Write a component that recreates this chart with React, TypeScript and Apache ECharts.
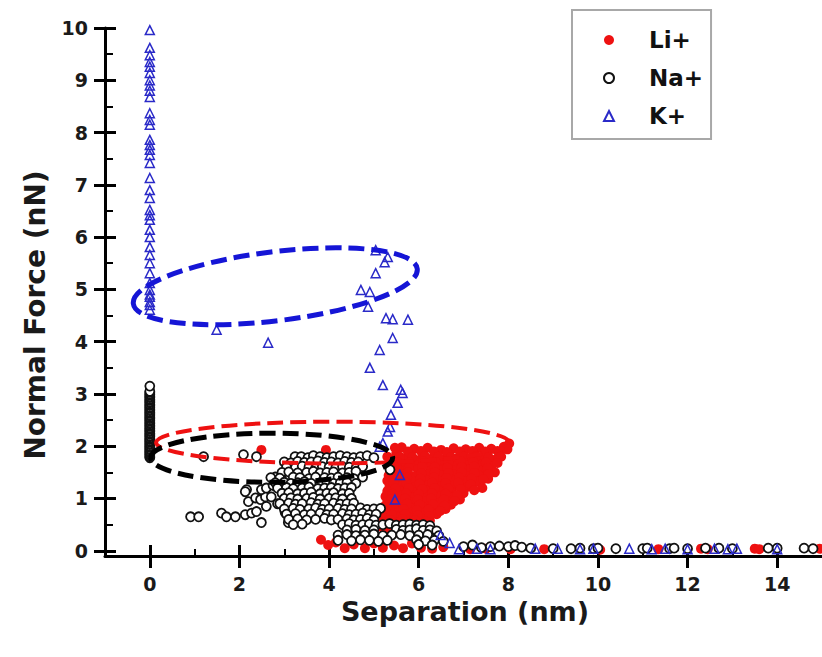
import React, { useEffect, useRef } from "react";
import * as echarts from "echarts";

const FONT = "'DejaVu Sans', 'Liberation Sans', sans-serif";

// Axis ticks
const xTickValues = [0, 2, 4, 6, 8, 10, 12, 14];
const xMinorValues = [1, 3, 5, 7, 9, 11, 13];
const yTickValues = [0, 1, 2, 3, 4, 5, 6, 7, 8, 9, 10];
const yMinorValues = [0.5, 1.5, 2.5, 3.5, 4.5, 5.5, 6.5, 7.5, 8.5, 9.5];

// Li+ (red filled circles)
const liCluster: number[][] = [
  [5.62, 1.98], [5.9, 1.95], [6.2, 1.97], [6.5, 1.93], [6.78, 1.96], [7.05, 1.94], [7.35, 1.97], [7.62, 1.95], [7.9, 1.99], [8.02, 2.05],
  [5.5, 1.86], [5.78, 1.84], [6.08, 1.87], [6.36, 1.83], [6.66, 1.86], [6.95, 1.84], [7.22, 1.87], [7.52, 1.83], [7.8, 1.86],
  [5.42, 1.75], [5.7, 1.76], [5.98, 1.73], [6.28, 1.76], [6.57, 1.74], [6.86, 1.77], [7.14, 1.73], [7.42, 1.76], [7.7, 1.74],
  [5.36, 1.64], [5.64, 1.66], [5.93, 1.63], [6.22, 1.66], [6.5, 1.64], [6.8, 1.66], [7.08, 1.63], [7.36, 1.65], [7.62, 1.62],
  [5.4, 1.55], [5.68, 1.53], [5.98, 1.56], [6.26, 1.53], [6.56, 1.56], [6.84, 1.54], [7.12, 1.56], [7.4, 1.53], [7.7, 1.5],
  [5.33, 1.44], [5.62, 1.46], [5.92, 1.43], [6.2, 1.46], [6.5, 1.44], [6.78, 1.46], [7.06, 1.43], [7.34, 1.45], [7.55, 1.38],
  [5.3, 1.34], [5.58, 1.35], [5.88, 1.33], [6.16, 1.36], [6.45, 1.34], [6.74, 1.35], [7.02, 1.33], [7.3, 1.32],
  [5.35, 1.24], [5.64, 1.25], [5.94, 1.23], [6.22, 1.26], [6.52, 1.24], [6.8, 1.25], [7.08, 1.22], [7.42, 1.2],
  [5.3, 1.14], [5.58, 1.15], [5.86, 1.13], [6.16, 1.16], [6.46, 1.14], [6.74, 1.12], [7.0, 1.1],
  [5.26, 1.04], [5.54, 1.05], [5.84, 1.03], [6.12, 1.06], [6.42, 1.04], [6.7, 1.02], [6.92, 0.98],
  [5.3, 0.94], [5.6, 0.95], [5.88, 0.93], [6.18, 0.95], [6.46, 0.92], [6.72, 0.88],
  [5.22, 0.84], [5.5, 0.85], [5.8, 0.83], [6.08, 0.85], [6.36, 0.82], [6.6, 0.8],
  [5.25, 0.74], [5.55, 0.75], [5.84, 0.73], [6.12, 0.74], [6.4, 0.7],
  [5.2, 0.64], [5.5, 0.65], [5.78, 0.63], [6.06, 0.62], [6.25, 0.58],
  [5.24, 0.54], [5.54, 0.55], [5.82, 0.52], [6.08, 0.5],
  [5.2, 0.44], [5.48, 0.45], [5.76, 0.42],
  [5.3, 0.35], [5.58, 0.33],
];
const liClusterFill: number[][] = [
  [5.76, 1.9], [6.05, 1.91], [6.34, 1.9], [6.63, 1.89], [6.92, 1.9], [7.2, 1.91], [7.48, 1.9], [7.76, 1.91], [7.98, 1.94],
  [5.58, 1.8], [5.86, 1.79], [6.14, 1.81], [6.44, 1.8], [6.72, 1.79], [7.0, 1.8], [7.28, 1.81], [7.56, 1.79], [7.84, 1.8],
  [5.52, 1.7], [5.8, 1.69], [6.1, 1.71], [6.38, 1.7], [6.66, 1.69], [6.94, 1.71], [7.22, 1.7], [7.5, 1.69], [7.76, 1.68],
  [5.5, 1.6], [5.78, 1.59], [6.08, 1.61], [6.36, 1.6], [6.64, 1.59], [6.96, 1.6], [7.24, 1.61], [7.54, 1.58],
  [5.48, 1.49], [5.76, 1.5], [6.06, 1.48], [6.36, 1.5], [6.66, 1.49], [6.96, 1.5], [7.24, 1.49], [7.56, 1.47],
  [5.45, 1.39], [5.74, 1.4], [6.04, 1.38], [6.34, 1.4], [6.62, 1.39], [6.9, 1.4], [7.18, 1.38], [7.44, 1.37],
  [5.44, 1.29], [5.72, 1.3], [6.02, 1.28], [6.3, 1.3], [6.6, 1.29], [6.88, 1.3], [7.16, 1.27],
  [5.48, 1.19], [5.78, 1.2], [6.08, 1.18], [6.36, 1.2], [6.66, 1.19], [6.94, 1.18], [7.24, 1.16],
  [5.42, 1.09], [5.72, 1.1], [6.0, 1.08], [6.3, 1.1], [6.6, 1.09], [6.86, 1.06],
  [5.4, 0.99], [5.7, 1.0], [5.98, 0.98], [6.28, 1.0], [6.56, 0.98], [6.8, 0.95],
  [5.44, 0.89], [5.74, 0.9], [6.02, 0.88], [6.32, 0.89], [6.58, 0.86],
  [5.36, 0.79], [5.66, 0.8], [5.96, 0.78], [6.22, 0.79], [6.48, 0.76],
  [5.4, 0.69], [5.7, 0.7], [5.98, 0.68], [6.24, 0.66],
  [5.36, 0.59], [5.64, 0.6], [5.92, 0.58], [6.16, 0.56],
  [5.38, 0.49], [5.66, 0.48], [5.92, 0.47],
  [5.34, 0.39], [5.62, 0.38],
];
const liScattered: number[][] = [
  [2.49, 1.93], [3.93, 1.93], [5.47, 1.97], [5.3, 1.8],
  [3.82, 0.21], [3.98, 0.11], [4.15, 0.16], [4.35, 0.05], [4.55, 0.12], [4.8, 0.05], [5.0, 0.14],
  [5.2, 0.06], [5.45, 0.1], [5.65, 0.05], [5.85, 0.14], [6.05, 0.06], [6.3, 0.04], [6.55, 0.07],
  [7.15, 0.03], [7.5, 0.04], [8.05, 0.03], [8.8, 0.03], [9.95, 0.04], [10.05, 0.02], [11.35, 0.03],
  [12.3, 0.04], [12.45, 0.03], [13.5, 0.04], [13.6, 0.03], [14.95, 0.04],
];

// Na+ (black open circles)
const naColumn: number[][] = [
  [0, 1.78], [0, 1.8], [0, 1.83], [0, 1.85], [0, 1.88], [0, 1.9], [0, 1.93], [0, 1.95], [0, 1.98], [0, 2.0],
  [0, 2.03], [0, 2.05], [0, 2.08], [0, 2.1], [0, 2.13], [0, 2.15], [0, 2.18], [0, 2.2], [0, 2.23], [0, 2.25],
  [0, 2.28], [0, 2.3], [0, 2.33], [0, 2.35], [0, 2.38], [0, 2.4], [0, 2.43], [0, 2.45], [0, 2.48], [0, 2.5],
  [0, 2.53], [0, 2.55], [0, 2.58], [0, 2.6], [0, 2.63], [0, 2.65], [0, 2.68], [0, 2.7], [0, 2.73], [0, 2.75],
  [0, 2.78], [0, 2.8], [0, 2.83], [0, 2.85], [0, 2.88], [0, 2.9], [0, 2.93], [0, 2.95], [0, 2.98], [0, 3.0],
  [0, 3.03], [0, 3.05], [0, 3.15],
];
const naSparse: number[][] = [
  [0.91, 0.65], [1.09, 0.65], [1.6, 0.72], [1.71, 0.65], [1.91, 0.65], [2.13, 0.69], [2.27, 0.72], [2.38, 0.75],
  [2.49, 0.54], [1.2, 1.8], [2.09, 1.84], [2.38, 1.8], [2.16, 1.17], [2.2, 0.94], [2.36, 1.01], [2.47, 0.98],
  [2.58, 1.03], [2.71, 1.03], [2.8, 1.41], [2.93, 1.41], [3.02, 0.73], [3.09, 0.54], [2.13, 1.13], [2.49, 1.17],
  [2.6, 1.2], [2.75, 1.25], [2.6, 0.85], [2.85, 0.9],
];
const naCluster: number[][] = [
  [3.24, 1.8], [3.38, 1.8], [3.53, 1.78], [3.65, 1.82], [3.8, 1.8], [3.95, 1.78], [4.1, 1.8], [4.25, 1.82], [4.4, 1.8], [4.55, 1.78], [4.7, 1.8], [4.85, 1.82], [5.0, 1.78], [5.36, 1.55],
  [3.0, 1.7], [3.15, 1.68], [3.3, 1.71], [3.45, 1.69], [3.6, 1.7], [3.75, 1.72], [3.9, 1.69], [4.05, 1.7], [4.2, 1.68], [4.35, 1.71], [4.5, 1.69], [4.65, 1.7],
  [3.05, 1.6], [3.25, 1.59], [3.4, 1.62], [3.55, 1.6], [3.7, 1.58], [3.85, 1.61], [4.0, 1.6], [4.15, 1.59], [4.3, 1.61], [4.45, 1.6], [4.6, 1.58], [4.75, 1.61],
  [2.95, 1.5], [3.1, 1.51], [3.3, 1.49], [3.5, 1.5], [3.65, 1.52], [3.8, 1.49], [3.95, 1.5], [4.1, 1.51], [4.3, 1.49], [4.45, 1.5], [4.6, 1.52],
  [2.7, 1.4], [2.9, 1.39], [3.2, 1.41], [3.35, 1.4], [3.55, 1.38], [3.7, 1.41], [3.9, 1.4], [4.05, 1.39], [4.2, 1.41], [4.4, 1.4], [4.55, 1.38], [4.75, 1.41],
  [2.8, 1.3], [3.0, 1.31], [3.15, 1.29], [3.3, 1.3], [3.45, 1.32], [3.6, 1.29], [3.8, 1.3], [3.95, 1.31], [4.1, 1.29], [4.25, 1.3], [4.4, 1.31], [4.6, 1.29],
  [2.85, 1.2], [3.05, 1.21], [3.2, 1.19], [3.4, 1.2], [3.55, 1.22], [3.75, 1.19], [3.9, 1.2], [4.05, 1.21], [4.2, 1.19], [4.35, 1.2], [4.5, 1.21],
  [2.95, 1.1], [3.1, 1.11], [3.3, 1.09], [3.45, 1.1], [3.6, 1.12], [3.8, 1.09], [3.95, 1.1], [4.1, 1.11], [4.3, 1.09], [4.45, 1.1],
  [3.0, 1.0], [3.15, 1.01], [3.3, 0.99], [3.5, 1.0], [3.65, 1.02], [3.8, 0.99], [4.0, 1.0], [4.15, 1.01], [4.3, 0.99], [4.5, 1.0],
  [2.9, 0.9], [3.1, 0.91], [3.25, 0.89], [3.4, 0.9], [3.6, 0.92], [3.75, 0.89], [3.9, 0.9], [4.1, 0.91], [4.25, 0.89], [4.4, 0.9], [4.55, 0.91],
  [3.0, 0.8], [3.2, 0.81], [3.35, 0.79], [3.55, 0.8], [3.7, 0.82], [3.85, 0.79], [4.0, 0.8], [4.2, 0.81], [4.35, 0.79], [4.5, 0.8], [4.7, 0.82], [4.85, 0.79], [5.0, 0.8], [5.15, 0.81],
  [3.05, 0.7], [3.25, 0.71], [3.45, 0.69], [3.6, 0.7], [3.8, 0.72], [3.95, 0.69], [4.1, 0.7], [4.3, 0.71], [4.45, 0.69], [4.6, 0.7], [4.75, 0.72], [4.9, 0.69], [5.05, 0.7],
  [3.1, 0.6], [3.3, 0.61], [3.5, 0.59], [3.7, 0.6], [3.9, 0.62], [4.05, 0.59], [4.2, 0.6], [4.4, 0.61], [4.55, 0.59], [4.7, 0.6], [4.85, 0.62], [5.0, 0.59],
  [3.2, 0.5], [3.4, 0.51], [4.3, 0.5], [4.45, 0.52], [4.6, 0.49], [4.75, 0.5], [4.9, 0.51], [5.05, 0.49], [5.2, 0.5], [5.35, 0.52], [5.5, 0.49], [5.65, 0.5], [5.8, 0.51], [5.95, 0.49], [6.1, 0.5], [6.25, 0.48],
  [4.4, 0.4], [4.6, 0.41], [4.8, 0.39], [5.0, 0.4], [5.5, 0.41], [5.65, 0.39], [5.8, 0.4], [5.95, 0.42], [6.1, 0.39], [6.25, 0.4], [6.4, 0.38],
  [4.2, 0.3], [4.4, 0.31], [4.6, 0.29], [4.8, 0.3], [5.0, 0.32], [5.2, 0.29], [5.4, 0.3], [5.6, 0.31], [5.8, 0.29], [6.0, 0.3], [6.2, 0.31], [6.45, 0.29],
  [4.2, 0.2], [4.5, 0.19], [4.7, 0.21], [4.9, 0.2], [5.1, 0.18], [5.3, 0.2], [5.95, 0.21], [6.15, 0.19], [6.35, 0.2], [6.55, 0.18],
  [6.0, 0.12], [6.3, 0.11],
];
const naTail: number[][] = [
  [7.0, 0.08], [7.2, 0.11], [7.4, 0.06], [7.6, 0.08], [7.8, 0.09], [8.0, 0.08], [8.15, 0.1], [8.3, 0.07], [8.5, 0.05],
  [9.0, 0.04], [9.4, 0.04], [9.6, 0.05], [9.9, 0.04], [10.0, 0.05], [10.4, 0.04], [11.0, 0.04], [11.1, 0.05],
  [11.6, 0.04], [11.7, 0.05], [12.0, 0.04], [12.4, 0.05], [12.7, 0.05], [13.0, 0.04], [13.8, 0.05], [14.0, 0.05],
  [14.6, 0.05], [14.8, 0.04],
];

// K+ (blue open triangles)
const kColumn: number[][] = [
  [0, 9.96], [0, 9.62], [0, 9.48], [0, 9.35], [0, 9.26], [0, 9.14], [0, 9.0], [0, 8.9], [0, 8.8], [0, 8.68],
  [0, 8.37], [0, 8.24], [0, 8.15], [0, 7.86], [0, 7.76], [0, 7.67], [0, 7.57], [0, 7.42], [0, 7.13], [0, 6.9],
  [0, 6.75], [0, 6.52], [0, 6.42], [0, 6.33], [0, 6.14], [0, 6.0], [0, 5.81], [0, 5.66], [0, 5.5], [0, 5.31],
  [0, 5.12], [0, 4.99], [0, 4.9], [0, 4.86], [0, 4.76], [0, 4.7], [0, 4.61],
];
const kScattered: number[][] = [
  [1.49, 4.23], [2.64, 3.98], [5.04, 5.75], [5.31, 5.62], [5.24, 5.52], [5.04, 5.31], [4.71, 4.99], [4.91, 4.95],
  [4.87, 4.67], [5.27, 4.45], [5.42, 4.43], [5.76, 4.42], [5.42, 4.07], [5.13, 3.84], [4.91, 3.5], [5.2, 3.17],
  [5.6, 3.08], [5.64, 3.02], [5.53, 2.83], [5.38, 2.6], [5.36, 2.37], [5.31, 2.28], [5.2, 2.06], [5.13, 1.99],
  [5.58, 1.45], [5.47, 0.98], [6.49, 0.3], [6.69, 0.15],
  [6.9, 0.03], [7.3, 0.04], [7.6, 0.03], [8.6, 0.04], [9.1, 0.04], [9.6, 0.03], [9.9, 0.04], [10.7, 0.04],
  [11.2, 0.03], [11.5, 0.04], [12.0, 0.03], [12.6, 0.04], [12.9, 0.03], [13.1, 0.04], [14.0, 0.03],
];

const liData = [...liCluster, ...liClusterFill, ...liScattered];
const naData = [...naColumn, ...naSparse, ...naCluster, ...naTail];
const kData = [...kColumn, ...kScattered];

// Dashed ellipse annotations (data units)
const ellipses = [
  { color: "#1515d6", cx: 2.8, cy: 5.06, rx: 3.19, ry: 0.66, rotateDeg: 7, width: 5 },
  { color: "#ee1111", cx: 4.08, cy: 2.07, rx: 3.94, ry: 0.4, rotateDeg: 0, width: 4 },
  { color: "#000000", cx: 2.72, cy: 1.78, rx: 2.7, ry: 0.47, rotateDeg: 0, width: 5 },
];

const axisColor = "#000";

function makeXAxes() {
  const base = {
    type: "value" as const,
    min: -1,
    max: 15,
    position: "bottom" as const,
    splitLine: { show: false },
  };
  return [
    {
      ...base,
      axisLine: { show: true, onZero: false, lineStyle: { color: axisColor, width: 3 } },
      axisTick: { show: true, inside: false, length: 12, customValues: xTickValues, lineStyle: { color: axisColor, width: 3 } },
      axisLabel: { show: true, customValues: xTickValues, margin: 18, fontFamily: FONT, fontWeight: "bold", fontSize: 19, color: "#1a1a1a" },
    },
    {
      ...base,
      axisLine: { show: false, onZero: false },
      axisTick: { show: true, inside: true, length: 11, customValues: xTickValues, lineStyle: { color: axisColor, width: 3 } },
      axisLabel: { show: false },
    },
    {
      ...base,
      axisLine: { show: false, onZero: false },
      axisTick: { show: true, inside: true, length: 7, customValues: xMinorValues, lineStyle: { color: axisColor, width: 2 } },
      axisLabel: { show: false },
    },
  ];
}

function makeYAxes() {
  const base = {
    type: "value" as const,
    min: -0.1,
    max: 10,
    position: "left" as const,
    splitLine: { show: false },
  };
  return [
    {
      ...base,
      axisLine: { show: true, onZero: false, lineStyle: { color: axisColor, width: 3 } },
      axisTick: { show: true, inside: false, length: 11, customValues: yTickValues, lineStyle: { color: axisColor, width: 3 } },
      axisLabel: { show: true, customValues: yTickValues, margin: 17, fontFamily: FONT, fontWeight: "bold", fontSize: 19, color: "#1a1a1a" },
    },
    {
      ...base,
      axisLine: { show: false, onZero: false },
      axisTick: { show: true, inside: true, length: 11, customValues: yTickValues, lineStyle: { color: axisColor, width: 3 } },
      axisLabel: { show: false },
    },
    {
      ...base,
      axisLine: { show: false, onZero: false },
      axisTick: { show: true, inside: true, length: 8, customValues: yMinorValues, lineStyle: { color: axisColor, width: 2 } },
      axisLabel: { show: false },
    },
  ];
}

export default function App() {
  const ref = useRef<HTMLDivElement>(null);

  useEffect(() => {
    document.body.style.margin = "0";
    if (!ref.current) return;
    const chart = echarts.init(ref.current, undefined, { renderer: "svg" });

    chart.setOption({
      animation: false,
      backgroundColor: "#ffffff",
      grid: { left: 105, right: -4, top: 28, bottom: 101, containLabel: false },
      xAxis: makeXAxes(),
      yAxis: makeYAxes(),
      legend: {
        orient: "vertical",
        left: 572,
        top: 10,
        padding: [17, 8, 10, 31],
        itemGap: 12,
        itemWidth: 10,
        itemHeight: 10,
        borderColor: "#a8a8a8",
        borderWidth: 2,
        backgroundColor: "#fff",
        textStyle: { fontFamily: FONT, fontWeight: "bold", fontSize: 23, color: "#111", lineHeight: 26, padding: [0, 0, 0, 30] },
        data: [
          { name: "Li+", icon: "circle" },
          { name: "Na+", icon: "circle" },
          { name: "K+", icon: "triangle" },
        ],
      },
      series: [
        {
          name: "Li+",
          type: "scatter",
          symbol: "circle",
          symbolSize: 10,
          itemStyle: { color: "#ee1111", opacity: 1 },
          data: liData,
          z: 2,
        },
        {
          name: "Na+",
          type: "scatter",
          symbol: "circle",
          symbolSize: 9,
          itemStyle: { color: "#ffffff", borderColor: "#111111", borderWidth: 1.8, opacity: 1 },
          data: naData,
          z: 3,
        },
        {
          name: "K+",
          type: "scatter",
          symbol: "triangle",
          symbolSize: 9,
          itemStyle: { color: "rgba(255,255,255,0)", borderColor: "#2a2ac8", borderWidth: 1.5, opacity: 1 },
          data: kData,
          z: 4,
        },
      ],
    });

    const graphics: any[] = [];
    ellipses.forEach((e) => {
      const c = chart.convertToPixel({ seriesIndex: 0 }, [e.cx, e.cy]) as number[];
      const px = chart.convertToPixel({ seriesIndex: 0 }, [e.cx + e.rx, e.cy]) as number[];
      const py = chart.convertToPixel({ seriesIndex: 0 }, [e.cx, e.cy + e.ry]) as number[];
      graphics.push({
        type: "ellipse",
        x: c[0],
        y: c[1],
        rotation: (e.rotateDeg * Math.PI) / 180,
        shape: { cx: 0, cy: 0, rx: Math.abs(px[0] - c[0]), ry: Math.abs(c[1] - py[1]) },
        style: { fill: "none", stroke: e.color, lineWidth: e.width, lineDash: [16, 7] },
        z: 50,
        silent: true,
      });
    });
    graphics.push({
      type: "text",
      x: 35,
      y: 315,
      rotation: Math.PI / 2,
      style: { text: "Normal Force (nN)", fontFamily: FONT, fontWeight: "bold", fontSize: 28, fill: "#1a1a1a", align: "center", verticalAlign: "middle" },
      z: 50,
    });
    graphics.push({
      type: "text",
      x: 465,
      y: 611,
      style: { text: "Separation (nm)", fontFamily: FONT, fontWeight: "bold", fontSize: 27, fill: "#1a1a1a", align: "center", verticalAlign: "middle" },
      z: 50,
    });
    chart.setOption({ graphic: graphics });

    return () => {
      chart.dispose();
    };
  }, []);

  return <div ref={ref} style={{ width: 822, height: 657 }} />;
}
